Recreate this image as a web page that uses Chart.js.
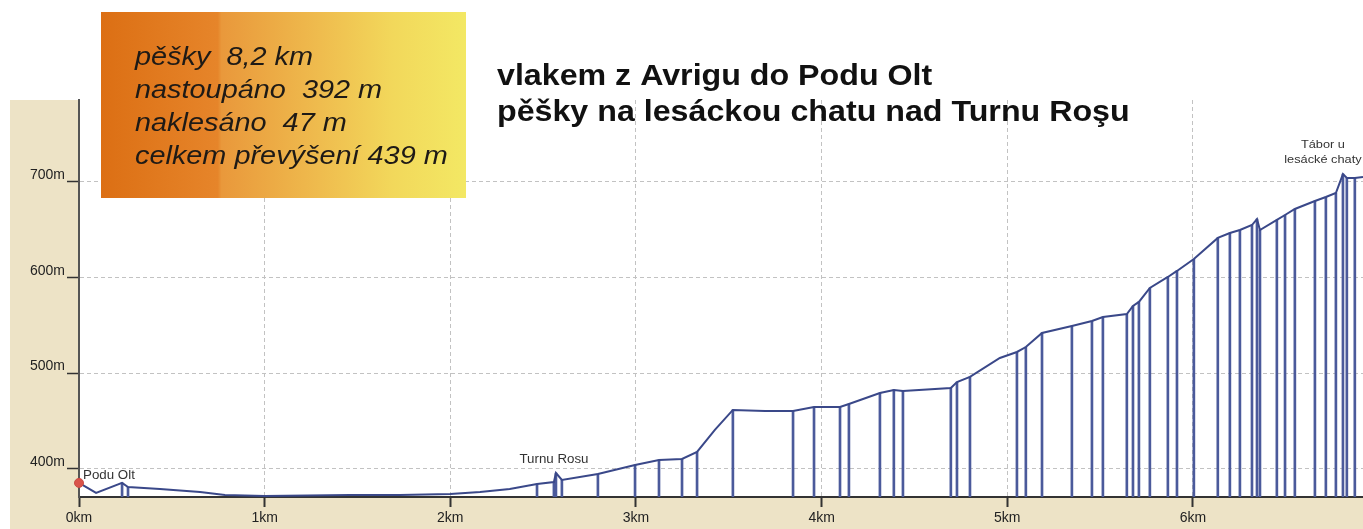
<!DOCTYPE html>
<html>
<head>
<meta charset="utf-8">
<script src="https://cdn.jsdelivr.net/npm/chart.js@4/dist/chart.umd.min.js"></script>
<style>
    html, body { margin: 0; padding: 0; background: #ffffff; }
    #wrap { width: 1363px; height: 529px; position: relative; }
</style>
</head>
<body>
<div id="wrap"><canvas id="profil" width="1363" height="529"></canvas></div>
<script>
// profile points: distance (km) and elevation (m)
var distKm = [0.000, 0.092, 0.232, 0.264, 0.436, 0.652, 0.786, 1.000, 1.460, 1.729,
    2.000, 2.160, 2.320, 2.467, 2.558, 2.569, 2.601, 2.795, 2.995, 3.124,
    3.248, 3.329, 3.425, 3.522, 3.695, 3.846, 3.959, 4.099, 4.147, 4.314,
    4.389, 4.438, 4.696, 4.729, 4.799, 4.960, 5.052, 5.100, 5.187, 5.348,
    5.456, 5.515, 5.644, 5.677, 5.709, 5.768, 5.865, 5.914, 6.005, 6.134,
    6.199, 6.253, 6.318, 6.345, 6.361, 6.452, 6.496, 6.549, 6.657, 6.716,
    6.770, 6.808, 6.829, 6.872, 6.916];
var elevM = [385.4, 374.9, 385.4, 381.2, 379.1, 376.0, 372.8, 371.8, 372.8, 372.8,
    373.9, 376.0, 379.0, 384.3, 386.4, 395.8, 388.5, 394.8, 404.2, 409.4,
    410.5, 417.8, 440.8, 461.7, 460.6, 460.6, 464.8, 464.8, 467.9, 479.4,
    482.6, 481.5, 484.7, 490.9, 496.2, 516.0, 522.3, 527.5, 542.2, 549.5,
    554.7, 558.9, 562.0, 570.4, 574.6, 589.2, 600.7, 607.0, 619.5, 641.5,
    646.7, 649.8, 655.0, 661.3, 649.8, 660.3, 665.5, 671.8, 680.1, 684.3,
    688.5, 708.3, 704.2, 704.2, 705.2];
// waypoints that get a vertical line down to the axis
var dropIdx = [2, 3, 13, 14, 15, 16, 17, 18, 19, 20, 21, 23, 25, 26, 27, 28, 29, 30, 31,
    32, 33, 34, 36, 37, 38, 39, 40, 41, 42, 43, 44, 45, 46, 47, 48, 49, 50, 51, 52,
    53, 54, 55, 56, 57, 58, 59, 60, 61, 62, 63];
var placeNames = ['Podu Olt', 'Turnu Rosu', 'Tábor u|lesácké chaty'];
var placeIdx = [0, 15, 61];
var yTicks = [400, 500, 600, 700];
var xTicks = [0, 1, 2, 3, 4, 5, 6];
var infoLines = ['pěšky  8,2 km', 'nastoupáno  392 m', 'naklesáno  47 m', 'celkem převýšení 439 m'];
var titleLines = ['vlakem z Avrigu do Podu Olt', 'pěšky na lesáckou chatu nad Turnu Roşu'];

var FONT = "'Liberation Sans', Arial, sans-serif";
var STRETCH = 1.11;

var profilePoints = distKm.map(function (d, i) { return { x: d, y: elevM[i] }; });
var dropPoints = dropIdx.map(function (i) { return { x: distKm[i], y: elevM[i] }; });

function stretchText(ctx, text, x, y, align) {
    var w = ctx.measureText(text).width * STRETCH;
    var left = x;
    if (align === 'center') left = x - w / 2;
    ctx.save();
    ctx.translate(left, y);
    ctx.scale(STRETCH, 1);
    ctx.textAlign = 'left';
    ctx.fillText(text, 0, 0);
    ctx.restore();
}

var backgroundPlugin = {
    id: 'bg',
    beforeDraw: function (chart) {
        var ctx = chart.ctx, a = chart.chartArea;
        ctx.save();
        ctx.fillStyle = '#ede3c6';
        ctx.fillRect(10, a.top, chart.width - 10, chart.height - a.top);
        ctx.fillStyle = '#ffffff';
        ctx.fillRect(a.left, a.top, a.right - a.left, a.bottom - a.top);
        ctx.restore();
    }
};

var textPlugin = {
    id: 'texts',
    afterDraw: function (chart) {
        var ctx = chart.ctx;
        var xs = chart.scales.x, ys = chart.scales.y;
        ctx.save();

        // orange info box
        var g = ctx.createLinearGradient(101, 0, 466, 0);
        g.addColorStop(0, '#dc6f14');
        g.addColorStop(0.32, '#e6852a');
        g.addColorStop(0.33, '#e9983b');
        g.addColorStop(0.6, '#efbc4e');
        g.addColorStop(0.8, '#f2d85b');
        g.addColorStop(1, '#f3e864');
        ctx.fillStyle = g;
        ctx.fillRect(101, 12, 365, 186);

        ctx.fillStyle = '#1e1a16';
        ctx.font = 'italic 26px ' + FONT;
        ctx.textBaseline = 'alphabetic';
        for (var i = 0; i < infoLines.length; i++) {
            stretchText(ctx, infoLines[i], 135, 65 + i * 33, 'left');
        }

        // title
        ctx.fillStyle = '#111111';
        ctx.font = 'bold 29px ' + FONT;
        stretchText(ctx, titleLines[0], 497, 85, 'left');
        stretchText(ctx, titleLines[1], 497, 121, 'left');

        // place names next to their waypoints
        ctx.fillStyle = '#333333';
        for (var p = 0; p < placeNames.length; p++) {
            var k = placeIdx[p];
            var px = xs.getPixelForValue(distKm[k]);
            var py = ys.getPixelForValue(elevM[k]);
            var parts = placeNames[p].split('|');
            if (p === 0) {
                ctx.font = '12px ' + FONT;
                stretchText(ctx, parts[0], px + 4, py - 4, 'left');
            } else if (p === 1) {
                ctx.font = '12px ' + FONT;
                stretchText(ctx, parts[0], px - 2, py - 10, 'center');
            } else {
                ctx.font = '11.5px ' + FONT;
                stretchText(ctx, parts[0], px - 20, py - 26, 'center');
                stretchText(ctx, parts[1], px - 20, py - 11, 'center');
            }
        }
        ctx.restore();
    }
};

new Chart(document.getElementById('profil').getContext('2d'), {
    type: 'line',
    data: {
        datasets: [{
            type: 'line',
            data: profilePoints,
            borderColor: '#3a4889',
            borderWidth: 2,
            tension: 0,
            order: 0,
            clip: 8,
            pointRadius: function (c) { return c.dataIndex === 0 ? 4.5 : 0; },
            pointBackgroundColor: '#d9534a',
            pointBorderColor: '#c84a44',
            pointBorderWidth: 1
        }, {
            type: 'bar',
            data: dropPoints,
            backgroundColor: '#4b5a9b',
            barThickness: 2,
            grouped: false,
            order: 1
        }]
    },
    options: {
        responsive: false,
        animation: false,
        events: [],
        layout: { autoPadding: false, padding: { left: 10, top: 100, right: 0, bottom: 0 } },
        plugins: { legend: { display: false }, tooltip: { enabled: false } },
        scales: {
            x: {
                type: 'linear',
                min: 0,
                max: 6.916,
                offset: false,
                afterBuildTicks: function (s) { s.ticks = xTicks.map(function (v) { return { value: v }; }); },
                afterFit: function (s) { s.height = 32; },
                grid: { offset: false, color: '#c2c2c2', lineWidth: 1, tickLength: 10, tickColor: '#333333', tickWidth: 2 },
                border: { color: '#333333', width: 2, dash: [4, 3] },
                ticks: {
                    color: '#222222',
                    font: { family: FONT, size: 14 },
                    padding: 3,
                    maxRotation: 0,
                    callback: function (v) { return v + 'km'; }
                }
            },
            y: {
                type: 'linear',
                min: 370.7,
                max: 785.7,
                afterBuildTicks: function (s) { s.ticks = yTicks.map(function (v) { return { value: v }; }); },
                afterFit: function (s) { s.width = 69; },
                grid: { color: '#c2c2c2', lineWidth: 1, tickLength: 12, tickColor: '#333333', tickWidth: 1.5 },
                border: { color: '#555555', width: 2, dash: [4, 3] },
                ticks: {
                    color: '#222222',
                    font: { family: FONT, size: 14 },
                    padding: 2,
                    labelOffset: -7,
                    callback: function (v) { return v + 'm'; }
                }
            }
        }
    },
    plugins: [backgroundPlugin, textPlugin]
});
</script>
</body>
</html>
